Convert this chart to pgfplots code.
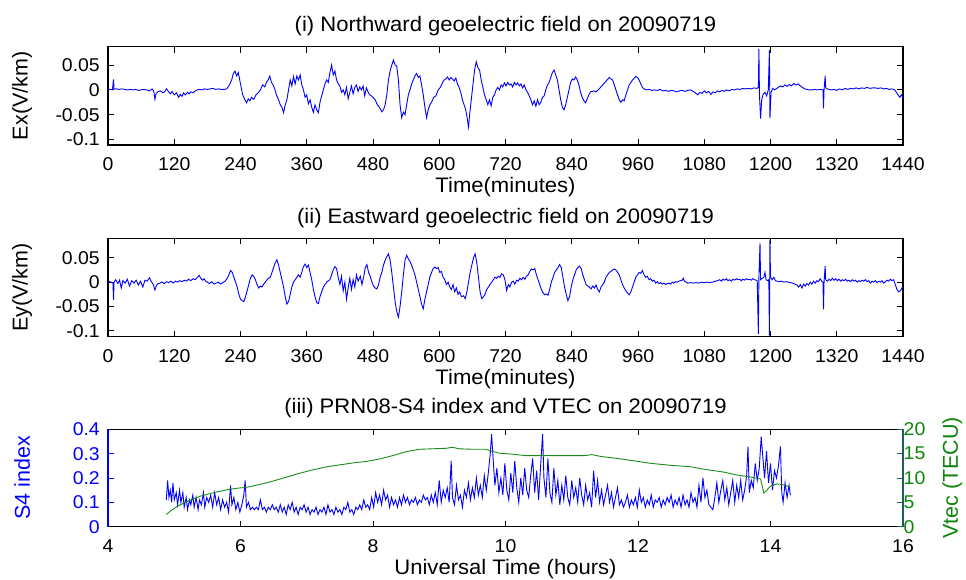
\documentclass[border=0pt]{standalone}
\usepackage{pgfplots}
\pgfplotsset{compat=1.18}
\usepackage{fontspec}
\setmainfont{Liberation Sans}[FakeStretch=1.05]
\newfontfamily\rotfont{Liberation Sans}
\definecolor{mgreen}{rgb}{0.05,0.52,0.05}
\definecolor{lgreen}{rgb}{0.1,0.55,0.1}
\definecolor{tealax}{rgb}{0.12,0.36,0.36}
\pgfplotsset{
  base/.style={
    scale only axis, width=795pt,
    tick align=inside, major tick length=6pt,
    axis line style={line width=1.1pt, black},
    tick style={line width=0.8pt, black},
    /pgf/number format/assume math mode=true,
    tick label style={font=\fontsize{18.5}{21}\selectfont},
    xticklabel style={anchor=base, yshift=-25.5pt, inner sep=0pt},
    yticklabel style={anchor=east, inner sep=0pt, xshift=-8pt},
    label style={font=\fontsize{21}{24}\selectfont},
    xlabel style={at={(axis description cs:0.5,0)}, anchor=base, yshift=-47.5pt},
    ylabel style={at={(axis description cs:-0.108,0.5)}, anchor=center, font=\fontsize{21.5}{24}\selectfont},
    title style={font=\fontsize{21}{24}\selectfont, at={(axis description cs:0.5,1)}, anchor=base, yshift=8.8pt},
    clip=true,
  },
  timeax/.style={base,
    xmin=0, xmax=1440,
    xtick={0,120,240,360,480,600,720,840,960,1080,1200,1320,1440},
    xticklabels={0,120,240,360,480,600,720,840,960,1080,1200,1320,1440},
    ytick={-0.1,-0.05,0,0.05},
    yticklabels={-0.1,-0.05,0,0.05},
    xlabel={Time(minutes)},
  },
}
\begin{document}
\begin{tikzpicture}[x=1pt,y=1pt]
\path[use as bounding box] (0,0) rectangle (966,579);
% ---------- panel (i)
\begin{axis}[timeax, at={(108pt,434pt)}, anchor=south west, height=98.3pt,
  ymin=-0.111, ymax=0.087,
  title={(i) Northward geoelectric field on 20090719},
  ylabel={\rotfont Ex(V/km)}]
\addplot[blue, line width=0.9pt] coordinates {
(0,0.001) (4,0.001) (8,0.0) (10,0.021) (11,0.002) (15,0.002) (20,0.001) (25,0.002) (30,0.001) (35,0.0) (40,0.001) (45,0.0) (50,0.001) (55,-0.001) (60,0.0) (65,0.001) (70,0.0) (75,-0.002) (80,0.002) (83,-0.003) (85,-0.019) (87,-0.008) (90,-0.004) (95,-0.002) (100,-0.006) (103,-0.003) (106,0.002) (110,-0.004) (113,-0.008) (116,-0.003) (120,-0.01) (124,-0.006) (128,-0.015) (131,-0.009) (134,-0.013) (137,-0.006) (140,-0.01) (144,-0.005) (147,-0.008) (150,-0.004) (154,-0.006) (158,-0.002) (162,0.0) (166,0.001) (170,0.0) (175,0.002) (180,0.001) (185,0.002) (190,0.003) (195,0.001) (200,0.002) (205,0.001) (210,0.001) (215,0.002) (220,0.01) (224,0.02) (227,0.033) (230,0.038) (233,0.028) (236,0.035) (240,0.012) (244,-0.01) (248,-0.02) (251,-0.026) (254,-0.018) (257,-0.022) (260,-0.015) (264,-0.019) (268,-0.01) (272,-0.006) (276,0.0) (280,0.01) (284,0.006) (287,0.015) (290,0.02) (293,0.028) (296,0.015) (299,0.01) (302,0.002) (305,-0.01) (309,-0.02) (312,-0.03) (315,-0.035) (318,-0.046) (321,-0.03) (324,-0.02) (327,0.0) (330,0.02) (333,0.008) (336,0.027) (339,0.012) (342,0.028) (345,0.02) (348,0.03) (351,0.01) (354,0.0) (357,-0.015) (360,-0.01) (363,-0.028) (366,-0.02) (369,-0.035) (372,-0.045) (375,-0.03) (378,-0.04) (381,-0.046) (384,-0.025) (387,-0.012) (390,0.0) (393,0.012) (396,0.02) (399,0.015) (402,0.035) (405,0.05) (408,0.03) (411,0.038) (414,0.02) (417,0.012) (420,0.008) (423,-0.005) (426,0.0) (429,-0.01) (432,0.005) (435,-0.018) (438,-0.005) (441,0.008) (444,-0.008) (447,0.005) (450,0.01) (453,-0.003) (456,0.006) (459,0.0) (462,0.008) (465,-0.012) (468,0.004) (471,-0.004) (474,-0.01) (477,-0.012) (480,-0.015) (484,-0.02) (488,-0.03) (492,-0.036) (496,-0.044) (499,-0.04) (502,-0.03) (505,-0.01) (508,0.02) (511,0.038) (514,0.05) (517,0.06) (520,0.05) (523,0.048) (526,0.02) (529,-0.03) (532,-0.056) (535,-0.045) (538,-0.05) (541,-0.03) (544,-0.01) (547,0.0) (550,0.012) (553,0.02) (556,0.028) (559,0.033) (562,0.025) (565,0.028) (568,0.01) (571,-0.01) (574,-0.035) (577,-0.056) (580,-0.04) (583,-0.03) (586,-0.025) (590,-0.015) (594,-0.012) (598,0.0) (602,0.005) (606,0.015) (609,0.02) (612,0.022) (615,0.026) (618,0.02) (621,0.025) (624,0.022) (627,0.018) (630,0.024) (633,0.012) (636,0.005) (639,-0.005) (642,-0.02) (645,-0.03) (648,-0.04) (651,-0.06) (653,-0.075) (655,-0.05) (658,-0.02) (661,0.01) (664,0.04) (667,0.057) (670,0.045) (673,0.04) (676,0.02) (679,0.005) (682,-0.01) (685,-0.02) (688,-0.03) (691,-0.02) (694,-0.032) (697,-0.015) (700,-0.01) (703,0.0) (706,0.005) (709,0.0) (712,0.01) (715,0.006) (718,0.014) (721,0.008) (724,0.015) (727,0.01) (730,0.012) (733,0.006) (736,0.015) (739,0.01) (742,0.014) (745,0.008) (748,0.012) (751,0.004) (754,0.01) (757,0.0) (760,-0.005) (763,-0.012) (766,-0.02) (769,-0.03) (772,-0.022) (775,-0.033) (778,-0.02) (781,-0.03) (784,-0.025) (787,-0.015) (790,-0.012) (793,0.0) (796,0.01) (799,0.015) (802,0.025) (805,0.035) (808,0.04) (811,0.03) (814,0.02) (817,0.0) (820,-0.02) (823,-0.035) (826,-0.04) (829,-0.03) (832,-0.015) (835,0.0) (838,0.015) (841,0.022) (844,0.02) (847,0.026) (850,0.02) (853,0.01) (856,-0.005) (859,-0.015) (862,-0.022) (865,-0.026) (868,-0.018) (871,-0.01) (874,-0.004) (877,-0.003) (880,-0.002) (884,-0.004) (888,0.0) (892,0.005) (896,0.01) (900,0.015) (904,0.02) (908,0.025) (911,0.022) (914,0.02) (917,0.01) (920,0.0) (923,-0.01) (926,-0.02) (929,-0.025) (932,-0.02) (935,-0.022) (938,-0.01) (941,0.0) (944,0.01) (947,0.015) (950,0.02) (953,0.023) (956,0.027) (959,0.025) (962,0.02) (965,0.012) (968,0.005) (971,0.002) (975,0.0) (980,0.001) (985,-0.001) (990,0.0) (995,-0.001) (1000,0.001) (1005,-0.002) (1010,-0.001) (1015,-0.003) (1020,-0.001) (1025,-0.002) (1030,-0.004) (1035,-0.002) (1040,-0.001) (1045,-0.003) (1050,-0.001) (1055,0.0) (1060,-0.003) (1064,-0.006) (1068,-0.01) (1072,-0.005) (1076,-0.007) (1080,-0.002) (1084,-0.006) (1088,-0.003) (1092,-0.009) (1096,-0.004) (1100,-0.006) (1104,-0.002) (1108,-0.004) (1112,-0.001) (1116,-0.003) (1120,0.0) (1125,-0.002) (1130,0.001) (1135,0.0) (1140,0.002) (1145,0.001) (1150,0.003) (1155,0.002) (1160,0.003) (1165,0.002) (1170,0.004) (1175,0.003) (1178,0.005) (1179,0.082) (1180,-0.01) (1182,-0.058) (1184,-0.02) (1187,-0.008) (1190,-0.005) (1193,-0.012) (1196,0.0) (1198,0.08) (1199,-0.057) (1201,-0.005) (1204,0.003) (1207,0.0) (1210,0.002) (1214,0.005) (1218,0.008) (1222,0.006) (1226,0.01) (1230,0.007) (1234,0.011) (1238,0.008) (1242,0.013) (1246,0.01) (1250,0.012) (1254,0.008) (1258,0.005) (1262,0.002) (1266,0.001) (1270,0.0) (1275,0.0) (1280,0.001) (1285,0.0) (1290,0.001) (1295,0.0) (1296,-0.037) (1297,0.0) (1299,0.028) (1300,0.004) (1303,0.002) (1306,0.001) (1310,0.0) (1315,0.001) (1320,-0.001) (1325,0.002) (1330,0.0) (1335,0.003) (1340,0.001) (1345,0.003) (1350,0.002) (1355,0.004) (1360,0.002) (1365,0.004) (1370,0.003) (1375,0.005) (1380,0.003) (1385,0.004) (1390,0.004) (1395,0.003) (1400,0.004) (1405,0.002) (1410,0.003) (1415,0.001) (1420,0.002) (1425,0.0) (1428,-0.005) (1431,-0.01) (1434,-0.015) (1437,-0.01) (1440,-0.016)
};
\end{axis}
% ---------- panel (ii)
\begin{axis}[timeax, at={(108pt,242.3pt)}, anchor=south west, height=98.4pt,
  ymin=-0.112, ymax=0.090,
  title={(ii) Eastward geoelectric field on 20090719},
  ylabel={\rotfont Ey(V/km)}]
\addplot[blue, line width=0.9pt] coordinates {
(0,0.0) (3,0.001) (6,0.0) (9,-0.002) (10,-0.037) (11,0.0) (14,0.005) (18,-0.003) (21,0.004) (24,-0.012) (27,0.003) (31,-0.002) (35,0.006) (39,-0.008) (43,0.003) (47,-0.002) (51,0.004) (55,-0.006) (59,0.002) (63,-0.01) (67,0.004) (71,0.002) (75,0.009) (78,0.002) (82,-0.005) (85,-0.016) (88,-0.006) (91,-0.003) (94,-0.002) (98,0.0) (102,-0.003) (106,0.001) (110,-0.001) (114,0.002) (118,-0.002) (122,0.002) (126,0.0) (130,0.003) (134,0.001) (138,0.004) (142,0.002) (146,0.006) (150,0.003) (154,0.007) (158,0.005) (162,0.01) (165,0.014) (168,0.008) (171,0.004) (174,0.007) (177,0.002) (180,0.0) (184,-0.003) (188,0.001) (192,-0.004) (196,-0.002) (200,0.0) (204,-0.004) (208,-0.001) (212,0.002) (216,0.008) (219,0.015) (222,0.024) (225,0.02) (228,0.01) (231,0.0) (234,-0.01) (237,-0.025) (240,-0.035) (243,-0.038) (246,-0.04) (249,-0.03) (252,-0.018) (255,-0.005) (258,0.008) (261,0.015) (264,0.012) (267,0.005) (270,-0.005) (273,-0.012) (276,-0.008) (279,-0.01) (282,-0.004) (285,0.0) (288,0.005) (291,0.008) (294,0.01) (297,0.02) (300,0.03) (303,0.04) (306,0.046) (309,0.035) (312,0.02) (315,0.005) (318,-0.01) (321,-0.03) (324,-0.045) (327,-0.04) (330,-0.025) (333,-0.01) (336,0.0) (339,0.005) (342,0.01) (345,0.015) (348,0.01) (351,0.02) (354,0.032) (357,0.037) (360,0.03) (363,0.035) (366,0.02) (369,0.005) (372,-0.015) (375,-0.03) (378,-0.042) (381,-0.044) (384,-0.03) (387,-0.02) (390,-0.01) (393,-0.005) (396,0.0) (399,0.003) (402,0.005) (405,0.015) (408,0.025) (411,0.032) (414,0.028) (417,0.01) (420,-0.005) (423,0.012) (426,-0.018) (429,0.0) (432,-0.035) (435,-0.012) (438,0.008) (441,-0.015) (444,0.005) (447,-0.01) (450,0.015) (453,0.002) (457,0.012) (460,-0.005) (463,0.01) (466,0.03) (469,0.036) (472,0.02) (475,0.012) (478,0.0) (481,-0.008) (484,-0.012) (487,-0.014) (490,-0.005) (493,0.01) (496,0.02) (499,0.035) (502,0.045) (505,0.052) (508,0.058) (511,0.045) (514,0.02) (517,-0.01) (520,-0.04) (523,-0.06) (526,-0.072) (529,-0.05) (532,-0.02) (535,0.015) (538,0.045) (541,0.055) (544,0.048) (547,0.042) (550,0.035) (553,0.025) (556,0.015) (559,0.0) (562,-0.015) (565,-0.03) (568,-0.045) (571,-0.055) (574,-0.035) (577,-0.02) (580,-0.005) (583,0.01) (586,0.02) (589,0.028) (592,0.031) (595,0.028) (598,0.03) (601,0.02) (604,0.022) (607,0.01) (610,0.005) (613,-0.005) (616,0.0) (619,-0.01) (622,-0.015) (625,-0.005) (628,-0.02) (631,-0.012) (634,-0.025) (637,-0.02) (640,-0.03) (644,-0.028) (647,-0.034) (650,-0.02) (653,0.0) (656,0.02) (659,0.035) (662,0.05) (665,0.058) (668,0.04) (671,0.01) (674,-0.02) (677,-0.034) (680,-0.03) (683,-0.025) (686,-0.015) (689,-0.01) (692,-0.005) (695,0.0) (698,0.005) (701,0.01) (704,0.008) (707,0.012) (710,0.01) (713,0.017) (716,0.015) (719,0.005) (722,-0.017) (725,-0.005) (728,-0.01) (731,0.0) (734,0.002) (737,-0.004) (740,0.004) (743,0.002) (746,0.008) (749,0.005) (752,0.01) (755,0.006) (758,0.012) (761,0.015) (764,0.022) (767,0.027) (770,0.025) (773,0.028) (776,0.015) (779,0.005) (782,-0.005) (785,-0.015) (788,-0.022) (791,-0.026) (794,-0.024) (797,-0.027) (800,-0.015) (803,0.0) (806,0.01) (809,0.02) (812,0.025) (815,0.03) (818,0.036) (821,0.03) (824,0.01) (827,-0.01) (830,-0.025) (833,-0.038) (836,-0.03) (839,-0.01) (842,0.005) (845,0.015) (848,0.025) (851,0.03) (854,0.033) (857,0.028) (860,0.015) (863,0.005) (866,-0.005) (869,-0.008) (872,-0.01) (875,-0.014) (878,-0.008) (881,-0.012) (884,-0.006) (887,-0.015) (890,-0.02) (893,-0.01) (896,-0.005) (899,0.0) (902,0.01) (905,0.015) (908,0.02) (911,0.022) (914,0.025) (917,0.027) (920,0.025) (923,0.02) (926,0.015) (929,0.005) (932,-0.005) (935,-0.012) (938,-0.018) (941,-0.022) (944,-0.026) (947,-0.02) (950,-0.01) (953,0.0) (956,0.01) (959,0.015) (962,0.02) (965,0.018) (968,0.024) (971,0.015) (974,0.01) (977,0.012) (980,0.005) (983,0.007) (986,0.002) (989,0.004) (992,-0.002) (995,0.001) (998,-0.003) (1001,-0.001) (1004,-0.004) (1007,-0.002) (1010,-0.005) (1013,-0.003) (1016,-0.002) (1019,-0.004) (1022,0.0) (1025,-0.002) (1028,0.001) (1031,0.0) (1034,0.002) (1037,0.003) (1040,0.004) (1042,0.008) (1044,0.002) (1047,0.0) (1050,-0.002) (1055,-0.001) (1060,-0.002) (1065,-0.001) (1070,-0.002) (1075,0.0) (1080,-0.001) (1085,0.0) (1090,-0.001) (1095,0.0) (1100,0.002) (1104,0.003) (1108,0.005) (1111,0.002) (1114,0.006) (1117,0.004) (1120,0.007) (1123,0.003) (1126,0.005) (1129,0.002) (1132,0.006) (1135,0.004) (1138,0.007) (1141,0.005) (1144,0.006) (1147,0.003) (1150,0.006) (1153,0.004) (1156,0.007) (1159,0.005) (1162,0.006) (1165,0.004) (1168,0.007) (1171,0.005) (1174,0.004) (1176,0.003) (1178,-0.106) (1179,0.01) (1181,0.08) (1182,0.005) (1185,0.008) (1188,0.01) (1190,0.02) (1192,0.005) (1195,0.003) (1197,0.005) (1198,-0.11) (1199,0.088) (1200,0.01) (1203,0.005) (1206,0.01) (1209,0.003) (1212,0.002) (1216,0.001) (1220,0.002) (1224,0.0) (1228,0.001) (1232,0.0) (1236,-0.001) (1240,-0.002) (1244,-0.004) (1248,-0.006) (1251,-0.01) (1254,-0.005) (1257,-0.012) (1260,-0.004) (1263,-0.008) (1266,-0.003) (1269,-0.006) (1272,0.0) (1275,-0.004) (1278,0.002) (1281,-0.002) (1284,0.003) (1287,0.001) (1290,0.007) (1293,0.001) (1295,0.0) (1296,-0.056) (1297,0.0) (1299,0.033) (1300,0.005) (1303,0.002) (1306,0.006) (1309,0.003) (1312,0.008) (1315,0.004) (1318,0.007) (1321,0.003) (1324,0.006) (1327,0.002) (1330,0.005) (1333,0.003) (1336,0.006) (1339,0.002) (1342,0.004) (1345,0.001) (1348,0.005) (1351,0.002) (1354,0.004) (1357,0.0) (1360,0.003) (1363,0.001) (1366,0.004) (1369,0.002) (1372,0.005) (1375,0.001) (1378,0.003) (1381,-0.002) (1384,0.002) (1387,0.0) (1390,0.003) (1393,-0.001) (1396,0.002) (1399,0.0) (1402,0.003) (1405,-0.002) (1408,0.001) (1411,0.004) (1414,0.002) (1417,0.006) (1420,0.003) (1423,0.005) (1426,-0.005) (1429,-0.015) (1432,-0.02) (1435,-0.018) (1438,-0.012) (1440,-0.01)
};
\end{axis}
% ---------- panel (iii), left axis: S4
\begin{axis}[base, at={(108pt,52.3pt)}, anchor=south west, height=97.4pt,
  xmin=4, xmax=16, xtick={4,6,8,10,12,14,16}, xticklabels={4,6,8,10,12,14,16},
  ymin=0, ymax=0.4, ytick={0,0.1,0.2,0.3,0.4}, yticklabels={0,0.1,0.2,0.3,0.4},
  axis y line*=left,
  y axis line style={draw=blue},
  ytick style={draw=blue},
  yticklabel style={text=blue},
  ylabel style={text=blue},
  title style={yshift=1.2pt},
  title={(iii) PRN08-S4 index and VTEC on 20090719},
  xlabel={Universal Time (hours)},
  ylabel={\rotfont S4 index}]
\addplot[blue, line width=0.9pt] coordinates {
(4.88,0.11) (4.90,0.19) (4.92,0.12) (4.94,0.15) (4.96,0.10) (4.98,0.18) (5.00,0.11) (5.03,0.14) (5.05,0.09) (5.08,0.15) (5.10,0.10) (5.13,0.14) (5.15,0.08) (5.18,0.12) (5.20,0.07) (5.23,0.11) (5.25,0.09) (5.28,0.13) (5.30,0.08) (5.33,0.12) (5.36,0.07) (5.38,0.11) (5.41,0.09) (5.44,0.14) (5.46,0.08) (5.49,0.12) (5.52,0.10) (5.55,0.13) (5.58,0.08) (5.61,0.14) (5.64,0.09) (5.67,0.12) (5.70,0.07) (5.73,0.11) (5.76,0.08) (5.79,0.10) (5.82,0.06) (5.85,0.17) (5.87,0.09) (5.90,0.12) (5.93,0.07) (5.96,0.10) (5.99,0.06) (6.02,0.09) (6.05,0.13) (6.07,0.19) (6.09,0.08) (6.12,0.10)
(6.15,0.07) (6.18,0.08) (6.21,0.07) (6.24,0.08) (6.27,0.07) (6.30,0.11) (6.33,0.07) (6.36,0.08) (6.39,0.06) (6.42,0.08) (6.45,0.07) (6.48,0.09) (6.51,0.07) (6.54,0.08) (6.57,0.06) (6.60,0.09) (6.63,0.06) (6.66,0.08) (6.69,0.05) (6.72,0.09) (6.75,0.07) (6.78,0.10) (6.81,0.06) (6.84,0.08) (6.87,0.05) (6.90,0.08) (6.93,0.07) (6.96,0.09) (6.99,0.06) (7.02,0.08) (7.05,0.05) (7.08,0.07) (7.11,0.06) (7.14,0.08) (7.17,0.05) (7.20,0.07) (7.23,0.06) (7.26,0.08) (7.29,0.05) (7.32,0.09) (7.35,0.06) (7.38,0.07) (7.41,0.05) (7.44,0.08) (7.47,0.06) (7.50,0.07) (7.53,0.05) (7.56,0.08) (7.59,0.07) (7.62,0.10) (7.65,0.06) (7.68,0.07) (7.71,0.05) (7.74,0.08) (7.77,0.07) (7.80,0.09) (7.83,0.07) (7.86,0.11) (7.89,0.08)
(7.92,0.09) (7.95,0.07) (7.98,0.12) (8.01,0.08) (8.04,0.14) (8.07,0.10) (8.10,0.13) (8.13,0.09) (8.16,0.15) (8.19,0.11) (8.22,0.13) (8.25,0.08) (8.28,0.12) (8.31,0.09) (8.34,0.11) (8.37,0.08) (8.40,0.12) (8.43,0.09) (8.46,0.13) (8.49,0.10) (8.52,0.12) (8.55,0.09) (8.58,0.11) (8.61,0.10) (8.64,0.12) (8.67,0.09) (8.70,0.11) (8.73,0.10) (8.76,0.13) (8.79,0.11) (8.82,0.12) (8.85,0.09) (8.88,0.13)
(8.91,0.10) (8.94,0.14) (8.97,0.09) (9.00,0.19) (9.03,0.10) (9.06,0.15) (9.09,0.12) (9.12,0.16) (9.15,0.10) (9.18,0.27) (9.20,0.12) (9.23,0.09) (9.26,0.17) (9.29,0.11) (9.32,0.13) (9.35,0.08) (9.38,0.15) (9.41,0.12) (9.44,0.18) (9.47,0.11) (9.50,0.16) (9.53,0.12) (9.56,0.20) (9.59,0.13) (9.62,0.17) (9.65,0.12) (9.68,0.21) (9.71,0.15) (9.74,0.22) (9.77,0.30) (9.79,0.38) (9.81,0.29) (9.84,0.17) (9.87,0.24) (9.90,0.14)
(9.93,0.20) (9.96,0.13) (9.99,0.26) (10.02,0.15) (10.05,0.11) (10.08,0.22) (10.11,0.14) (10.14,0.27) (10.17,0.16) (10.20,0.10) (10.23,0.20) (10.26,0.13) (10.29,0.24) (10.32,0.15) (10.35,0.12) (10.38,0.21) (10.41,0.28) (10.44,0.14) (10.47,0.23) (10.50,0.11) (10.53,0.25) (10.56,0.38) (10.58,0.20) (10.61,0.12) (10.64,0.28) (10.67,0.14) (10.70,0.10) (10.73,0.24) (10.76,0.13) (10.79,0.19) (10.82,0.09)
(10.85,0.17) (10.88,0.11) (10.91,0.21) (10.94,0.12) (10.97,0.09) (11.00,0.19) (11.03,0.12) (11.06,0.16) (11.09,0.10) (11.12,0.20) (11.15,0.13) (11.18,0.09) (11.21,0.17) (11.24,0.11) (11.27,0.14) (11.30,0.08) (11.33,0.23) (11.36,0.12) (11.39,0.19) (11.42,0.10) (11.45,0.15) (11.48,0.09) (11.51,0.13) (11.54,0.17) (11.57,0.10) (11.60,0.14) (11.63,0.08) (11.66,0.12) (11.69,0.16) (11.72,0.09) (11.75,0.11) (11.78,0.08)
(11.81,0.10) (11.84,0.13) (11.87,0.08) (11.90,0.11) (11.93,0.09) (11.96,0.12) (11.99,0.08) (12.02,0.15) (12.05,0.10) (12.08,0.12) (12.11,0.08) (12.14,0.11) (12.17,0.09) (12.20,0.13) (12.23,0.08) (12.26,0.11) (12.29,0.10) (12.32,0.12) (12.35,0.08) (12.38,0.11) (12.41,0.09) (12.44,0.12) (12.47,0.10) (12.50,0.13) (12.53,0.08) (12.56,0.11) (12.59,0.09) (12.62,0.12) (12.65,0.08) (12.68,0.13) (12.71,0.09) (12.74,0.11) (12.77,0.08) (12.80,0.14) (12.83,0.10) (12.86,0.12) (12.89,0.08)
(12.92,0.17) (12.95,0.10) (12.98,0.20) (13.01,0.12) (13.04,0.15) (13.07,0.09) (13.10,0.08) (13.13,0.07) (13.16,0.12) (13.19,0.18) (13.22,0.10) (13.25,0.15) (13.28,0.19) (13.31,0.11) (13.34,0.16) (13.37,0.09) (13.40,0.14) (13.43,0.19) (13.46,0.10) (13.49,0.17) (13.52,0.12) (13.55,0.19) (13.58,0.11) (13.61,0.15) (13.64,0.21)
(13.66,0.33) (13.68,0.14) (13.71,0.19) (13.74,0.16) (13.77,0.26) (13.80,0.19) (13.83,0.24) (13.86,0.37) (13.88,0.30) (13.91,0.20) (13.94,0.31) (13.97,0.18) (14.00,0.26) (14.03,0.15) (14.06,0.23) (14.09,0.20) (14.12,0.25) (14.15,0.33) (14.17,0.14) (14.19,0.10) (14.22,0.18) (14.25,0.12) (14.28,0.17) (14.30,0.13)
};
\end{axis}
% ---------- panel (iii), right axis: VTEC
\begin{axis}[base, at={(108pt,52.3pt)}, anchor=south west, height=97.4pt,
  xmin=4, xmax=16, axis x line=none,
  ymin=0, ymax=20, ytick={0,5,10,15,20}, yticklabels={0,5,10,15,20},
  axis y line*=right,
  y axis line style={draw=tealax},
  ytick style={draw=tealax},
  yticklabel style={text=mgreen, anchor=west, xshift=8.5pt},
  ylabel style={text=mgreen, at={(axis description cs:1.062,0.5)}, anchor=center},
  ylabel={\rotfont Vtec (TECU)}]
\addplot[lgreen, line width=0.9pt] coordinates {
(4.88,2.5) (4.95,3.3) (5.05,4.2) (5.15,4.9) (5.25,5.5) (5.4,6.3) (5.6,7.0) (5.8,7.6) (5.95,7.9) (6.1,8.1) (6.3,8.7) (6.5,9.4) (6.7,10.2) (6.9,11.0) (7.1,11.7) (7.3,12.3) (7.5,12.7) (7.7,13.1) (7.9,13.4) (8.1,13.9) (8.3,14.6) (8.5,15.4) (8.7,15.9) (8.9,16.0) (9.1,16.1) (9.2,16.3) (9.3,16.0) (9.5,15.9) (9.7,15.9) (9.8,15.5) (9.9,15.1) (10.1,14.9) (10.3,14.6) (10.6,14.6) (10.9,14.6) (11.2,14.6) (11.3,14.8) (11.45,14.4) (11.7,14.0) (12.0,13.4) (12.2,13.0) (12.5,12.6) (12.8,12.3) (13.0,11.8) (13.3,11.2) (13.5,10.6) (13.7,10.2) (13.85,9.8) (13.9,6.9) (14.0,8.3) (14.1,8.8) (14.2,8.6) (14.3,8.1)
};
\end{axis}
\end{tikzpicture}
\end{document}
